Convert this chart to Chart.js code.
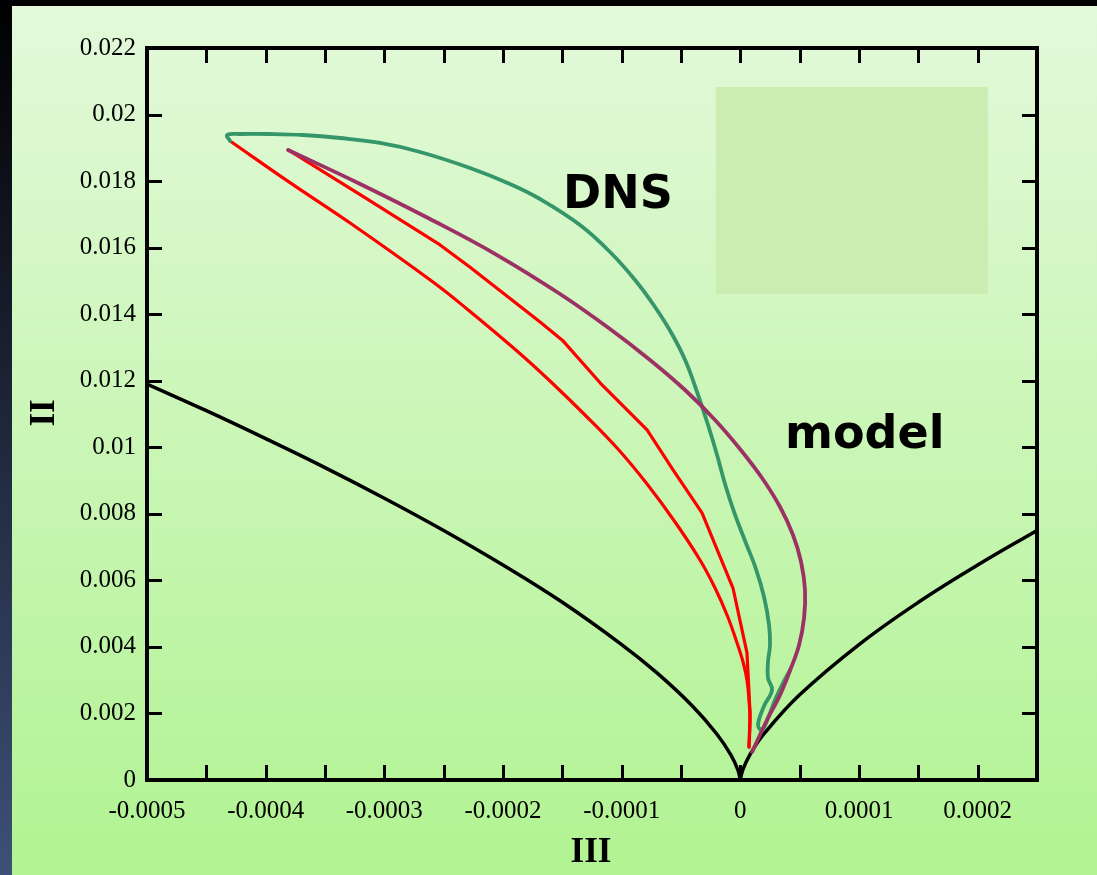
<!DOCTYPE html>
<html><head><meta charset="utf-8">
<script src="https://cdn.jsdelivr.net/npm/chart.js@4.4.1/dist/chart.umd.min.js"></script>
<style>html,body{margin:0;padding:0;background:#000;overflow:hidden}canvas{display:block}</style>
</head><body>
<canvas id="c" width="1097" height="875"></canvas>
<script>
// ---- tick labels ----
const xTickLabels = ['-0.0005','-0.0004','-0.0003','-0.0002','-0.0001','0','0.0001','0.0002'];
const yTickLabels = ['0','0.002','0.004','0.006','0.008','0.01','0.012','0.014','0.016','0.018','0.02','0.022'];

// ---- model (purple) ----
const modelX = [-0.0003811,-0.0003204,-0.0002615,-0.000205,-0.0001519,-0.0001098,-0.0000761,-0.0000466,-0.0000213,-0.0000003,0.0000183,0.0000335,0.0000444,0.0000512,0.0000545,0.0000537,0.0000495,0.0000427,0.0000335,0.0000225,0.0000099];
const modelY = [0.018935,0.017913,0.01686,0.015778,0.014606,0.013554,0.012623,0.011721,0.010819,0.009948,0.009076,0.008205,0.007363,0.006552,0.00571,0.004869,0.004057,0.003366,0.002555,0.001803,0.000842];

// ---- DNS (green) ----
const dnsX = [-0.00043,-0.0004325,-0.0004216,-0.0003963,-0.0003685,-0.0003373,-0.0003036,-0.0002699,-0.0002278,-0.0001941,-0.0001688,-0.0001351,-0.0001098,-0.0000887,-0.0000719,-0.0000576,-0.0000458,-0.0000356,-0.0000272,-0.0000196,-0.0000129,-0.0000053,0.000004,0.0000132,0.00002,0.0000242,0.000025,0.0000233,0.0000233,0.0000267,0.00002,0.0000149,0.0000183,0.0000233,0.0000292,0.0000351,0.0000419];
const dnsY = [0.019205,0.019385,0.019415,0.019415,0.019385,0.019295,0.019145,0.018875,0.018394,0.017913,0.017462,0.01668,0.015869,0.015027,0.014216,0.013404,0.012563,0.011571,0.010669,0.009768,0.008896,0.008055,0.007183,0.006341,0.0055,0.004658,0.004057,0.003546,0.003066,0.002705,0.002224,0.001653,0.001503,0.001863,0.002404,0.002855,0.003306];

// ---- red trajectory: straight-segment branch, then smooth return branch ----
const redUpperX = [-0.000381,-0.000317,-0.000253,-0.000228,-0.000169,-0.00015,-0.000118,-0.0000786,-0.0000567,-0.0000323,-0.0000062,0.0000056,0.0000082,0.0000073];
const redUpperY = [0.01894,0.01752,0.01608,0.01542,0.01377,0.01322,0.01193,0.01052,0.00932,0.00803,0.00577,0.00382,0.00201,0.00099];
const redLowerX = [0.0000073,0.0000082,0.0000073,0.0000056,0.0000023,-0.0000036,-0.0000112,-0.0000213,-0.000034,-0.000055,-0.0000786,-0.0001039,-0.0001326,-0.0001604,-0.0001882,-0.0002303,-0.000259,-0.0003264,-0.0003795,-0.00043];
const redLowerY = [0.000992,0.001803,0.002404,0.003005,0.003546,0.004208,0.004959,0.00577,0.006612,0.007754,0.008896,0.009978,0.01103,0.011992,0.012893,0.014156,0.014967,0.01668,0.017953,0.019205];

// ---- realizability boundary (black) ----
const boundLeftX = [-0.0005,-0.00045,-0.0004,-0.00035,-0.0003,-0.00025,-0.0002,-0.00015,-0.0001,-0.00007,-0.00004,-0.00002,-0.000008,-0.000002,0];
const boundLeftY = [0.0119,0.0111,0.01026,0.00939,0.00847,0.0075,0.00646,0.00534,0.00407,0.00321,0.00221,0.00139,0.000756,0.0003,0];
const boundRightX = [0,0.000002,0.000008,0.00002,0.00005,0.0001,0.00015,0.0002,0.00025];
const boundRightY = [0,0.0003,0.000756,0.00139,0.00256,0.00407,0.00534,0.00646,0.0075];

const pts = (xs, ys) => xs.map((x, i) => ({x: x, y: ys[i]}));

const decoPlugin = {
  id: 'deco',
  beforeDraw(chart) {
    const ctx = chart.ctx, W = chart.width, H = chart.height;
    ctx.save();
    ctx.fillStyle = '#000'; ctx.fillRect(0, 0, W, H);
    const lg = ctx.createLinearGradient(0, 0, 0, H);
    lg.addColorStop(0, '#000000'); lg.addColorStop(1, '#3e5077');
    ctx.fillStyle = lg; ctx.fillRect(0, 6, 12, H - 6);
    const g = ctx.createLinearGradient(0, 6, 0, H);
    g.addColorStop(0, '#e3f9da'); g.addColorStop(1, '#b1f392');
    ctx.fillStyle = g; ctx.fillRect(12, 6, W - 12, H - 6);
    ctx.restore();
  },
  beforeDatasetsDraw(chart) {
    const ctx = chart.ctx, xs = chart.scales.x, ys = chart.scales.y;
    const x0 = xs.getPixelForValue(-0.0000206), x1 = xs.getPixelForValue(0.0002086);
    const y0 = ys.getPixelForValue(0.02083), y1 = ys.getPixelForValue(0.01461);
    ctx.save();
    ctx.fillStyle = 'rgb(203,237,178)';
    ctx.fillRect(x0, y0, x1 - x0, y1 - y0);
    ctx.restore();
  },
  afterDatasetsDraw(chart) {
    const ctx = chart.ctx, a = chart.chartArea, xs = chart.scales.x, ys = chart.scales.y;
    ctx.save();
    ctx.strokeStyle = '#000';
    ctx.lineWidth = 3;
    const L = 15;
    xs.ticks.forEach(t => {
      const px = Math.round(xs.getPixelForValue(t.value)) + 0.5;
      ctx.beginPath();
      ctx.moveTo(px, a.bottom); ctx.lineTo(px, a.bottom - L);
      ctx.moveTo(px, a.top); ctx.lineTo(px, a.top + L);
      ctx.stroke();
    });
    ys.ticks.forEach(t => {
      const py = Math.round(ys.getPixelForValue(t.value)) + 0.5;
      ctx.beginPath();
      ctx.moveTo(a.left, py); ctx.lineTo(a.left + L, py);
      ctx.moveTo(a.right, py); ctx.lineTo(a.right - L, py);
      ctx.stroke();
    });
    ctx.lineWidth = 4;
    ctx.strokeRect(a.left, a.top, a.right - a.left, a.bottom - a.top);
    ctx.restore();
  },
  afterDraw(chart) {
    const ctx = chart.ctx;
    ctx.save();
    ctx.fillStyle = '#000';
    ctx.font = 'bold 46px "DejaVu Sans"';
    ctx.textAlign = 'left'; ctx.textBaseline = 'alphabetic';
    ctx.fillText('DNS', 563, 208);
    ctx.fillText('model', 785, 448);
    ctx.font = 'bold 35px "Liberation Serif"';
    ctx.textAlign = 'center'; ctx.textBaseline = 'alphabetic';
    ctx.fillText('III', 591, 862);
    ctx.translate(54, 413); ctx.rotate(-Math.PI / 2);
    ctx.fillText('II', 0, 0);
    ctx.restore();
  }
};

const lineDs = (label, data, color, width, tension) => ({
  label, data, showLine: true, borderColor: color, borderWidth: width,
  pointRadius: 0, tension, fill: false, borderCapStyle: 'round', borderJoinStyle: 'round'
});

new Chart(document.getElementById('c'), {
  type: 'scatter',
  data: {
    datasets: [
      lineDs('model', pts(modelX, modelY), '#9c3264', 3.8, 0.4),
      lineDs('DNS', pts(dnsX, dnsY), '#35966a', 3.8, 0.4),
      lineDs('red-a', pts(redUpperX, redUpperY), '#ff0000', 3.2, 0),
      lineDs('red-b', pts(redLowerX, redLowerY), '#ff0000', 3.2, 0.4),
      lineDs('boundL', pts(boundLeftX, boundLeftY), '#000000', 3.5, 0.4),
      lineDs('boundR', pts(boundRightX, boundRightY), '#000000', 3.5, 0.4)
    ]
  },
  options: {
    responsive: false,
    devicePixelRatio: 1,
    animation: false,
    events: [],
    layout: {padding: {left: 0, top: 48, right: 60, bottom: 0}},
    plugins: {legend: {display: false}, tooltip: {enabled: false}},
    scales: {
      x: {
        type: 'linear', min: -0.0005, max: 0.00025,
        afterFit(s) { s.height = 95; },
        grid: {display: false, drawTicks: false},
        border: {display: false},
        ticks: {
          stepSize: 0.00005, autoSkip: false, maxRotation: 0, padding: 16,
          color: '#000', font: {family: '"Liberation Serif"', size: 25},
          callback: (v, i) => (i % 2 === 0 ? (xTickLabels[i / 2] || '') : '')
        }
      },
      y: {
        type: 'linear', min: 0, max: 0.022,
        afterFit(s) { s.width = 147; },
        grid: {display: false, drawTicks: false},
        border: {display: false},
        ticks: {
          stepSize: 0.002, autoSkip: false, padding: 11,
          color: '#000', font: {family: '"Liberation Serif"', size: 25},
          callback: (v, i) => yTickLabels[i]
        }
      }
    }
  },
  plugins: [decoPlugin]
});
</script>
</body></html>
